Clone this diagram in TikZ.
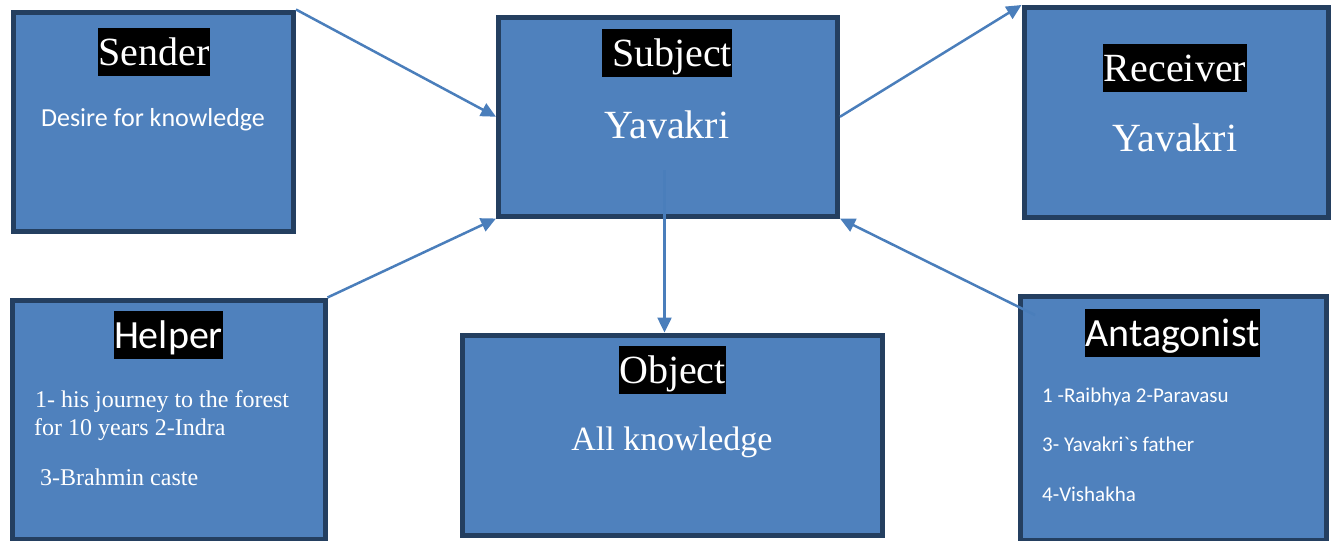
\documentclass[tikz,border=0pt]{standalone}
\usepackage{fontspec}
\setmainfont{Liberation Serif}
\newfontfamily\calib{Carlito}
\usetikzlibrary{arrows.meta}
\definecolor{boxfill}{HTML}{4F81BD}
\definecolor{boxline}{HTML}{243F60}
\definecolor{arrcol}{HTML}{4A7EBB}
\tikzset{
  box/.style={draw=boxline,fill=boxfill,line width=5pt,rectangle,inner sep=0pt},
  title/.style={fill=black,text=white,inner xsep=0.5pt,inner ysep=0pt,text height=37pt,text depth=11pt,anchor=north},
  serifbig/.style={font=\fontsize{40}{48}\selectfont},
  sansbig/.style={font=\calib\fontsize{40}{48}\selectfont},
  body/.style={text=white,inner sep=0pt},
  conn/.style={draw=arrcol,line width=2.5pt,-{Triangle[length=15pt,width=14pt]}}
}
\begin{document}
\begin{tikzpicture}[x=1pt,y=-1pt]
\useasboundingbox (0,0) rectangle (1334,541);
% boxes
\node[box,minimum width=280pt,minimum height=219.5pt,anchor=north west] (sender) at (13.5-2.5,12-2.5) {};
\node[box,minimum width=339pt,minimum height=198.5pt,anchor=north west] (subject) at (498.5-2.5,17.5-2.5) {};
\node[box,minimum width=304pt,minimum height=210pt,anchor=north west] (receiver) at (1024-2.5,7.5-2.5) {};
\node[box,minimum width=313pt,minimum height=239pt,anchor=north west] (helper) at (12-2.5,300-2.5) {};
\node[box,minimum width=419.5pt,minimum height=200pt,anchor=north west] (object) at (462.5-2.5,335-2.5) {};
\node[box,minimum width=306pt,minimum height=243.5pt,anchor=north west] (antagonist) at (1020-2.5,296.5-2.5) {};
% titles
\node[title,serifbig] (tsender) at (154,28) {Sender};
\node[title,serifbig] (tsubject) at (667,29) {\ Subject};
\node[title,serifbig] (treceiver) at (1175,44) {Receiver};
\node[title,sansbig] (thelper) at (168.5,311) {Helper};
\node[title,serifbig] (tobject) at (672.5,346) {Object};
\node[title,sansbig] (tantagonist) at (1172.5,309) {Antagonist};
% bodies
\node[body,anchor=base,font=\calib\fontsize{26}{31}\selectfont] (bsender) at (153,126) {Desire for knowledge};
\node[body,anchor=base,font=\fontsize{40}{48}\selectfont] (bsubject) at (667,138) {Yavakri};
\node[body,anchor=base,font=\fontsize{40}{48}\selectfont] (breceiver) at (1175,151) {Yavakri};
\node[body,anchor=base,font=\fontsize{34}{40}\selectfont] (bobject) at (672,450) {All knowledge};
\node[body,anchor=base west,font=\fontsize{24}{28}\selectfont] (bhelper1) at (35,407) {1- his journey to the forest};
\node[body,anchor=base west,font=\fontsize{24}{28}\selectfont] (bhelper2) at (34,435) {for 10 years 2-Indra};
\node[body,anchor=base west,font=\fontsize{24}{28}\selectfont] (bhelper3) at (40,485) {3-Brahmin caste};
\node[body,anchor=base west,font=\calib\fontsize{21}{25}\selectfont] (bant1) at (1042,402.5) {1 -Raibhya 2-Paravasu};
\node[body,anchor=base west,font=\calib\fontsize{21}{25}\selectfont] (bant2) at (1042,451.5) {3- Yavakri`s father};
\node[body,anchor=base west,font=\calib\fontsize{21}{25}\selectfont] (bant3) at (1042,501.5) {4-Vishakha};
% connectors
\coordinate (subin) at (664.5,170);
\coordinate (antin) at (1035,315);
\draw[conn] (sender.north east) -- (subject.west);
\draw[conn] (helper.north east) -- (subject.south west);
\draw[conn] (subject.east) -- (receiver.north west);
\draw[conn] (antin) -- (subject.south east);
\draw[conn] (subin) -- (subin |- object.north);
\end{tikzpicture}
\end{document}
